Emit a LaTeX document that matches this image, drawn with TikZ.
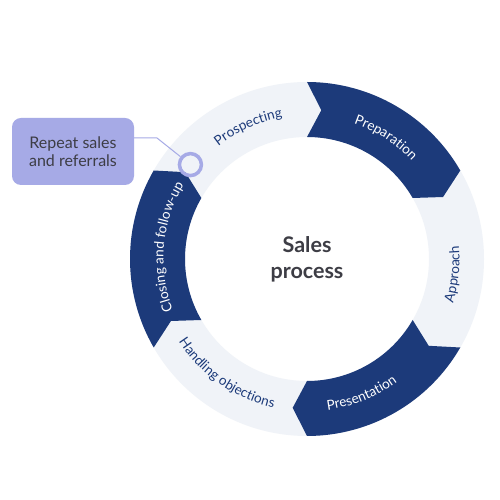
\documentclass[tikz,border=0pt]{standalone}
\usepackage{fontspec}
\setmainfont{Lato}
\usetikzlibrary{decorations.text}
\definecolor{navy}{HTML}{1C3A7A}
\definecolor{ringlight}{HTML}{F0F3F8}
\definecolor{lav}{HTML}{A6AAE6}
\definecolor{greytext}{HTML}{3D3D45}
\newcommand{\segfont}{\fontsize{13.6}{14}\selectfont}
\tikzset{
  darkseg/.style={fill=navy},
}
\newcommand{\segpath}[2]{% start angle, end angle
  (#1:177) arc[start angle=#1, end angle=#2, radius=177] -- (#2-5.5:149.5) -- (#2:122)
  arc[start angle=#2, end angle=#1, radius=122] -- (#1-5.5:149.5) -- cycle}
\newcommand{\cwtext}[3]{% center angle, color, text
  \path[decorate, decoration={text along path, text align=center,
    text={|\segfont\color{#2}|#3}}]
    (#1+45:143.5) arc[start angle=#1+45, end angle=#1-45, radius=143.5];}
\newcommand{\ccwtext}[3]{%
  \path[decorate, decoration={text along path, text align=center,
    text={|\segfont\color{#2}|#3}}]
    (#1-45:152.5) arc[start angle=#1-45, end angle=#1+45, radius=152.5];}
\begin{document}
\begin{tikzpicture}[x=1pt,y=1pt]
\useasboundingbox (0,0) rectangle (500,500);
\fill[white] (0,0) rectangle (500,500);
\begin{scope}[shift={(307,241)}]
  % light ring
  \fill[ringlight, even odd rule] (0,0) circle[radius=177] (0,0) circle[radius=122];
  % dark segments
  \fill[darkseg] \segpath{90}{30};
  \fill[darkseg] \segpath{-30}{-90};
  \fill[darkseg] \segpath{-150}{-210};
  % labels
  \cwtext{114}{navy}{Prospecting}
  \cwtext{57}{white}{Preparation}
  \ccwtext{-6}{navy}{Approach}
  \ccwtext{-68}{white}{Presentation}
  \ccwtext{-125}{navy}{Handling objections}
  \cwtext{175}{white}{Closing and follow-up}
  \node[font=\fontsize{21.5}{26}\selectfont\bfseries, text=greytext, align=center] (title) at (0,0) {Sales\\process};
  \node[circle, draw=lav, line width=3.5pt, minimum size=22pt, inner sep=0pt] (marker) at (141:150) {};
\end{scope}
\node[fill=lav, rounded corners=9pt, minimum width=122pt, minimum height=67pt,
  align=center, text=greytext, font=\fontsize{16}{18.5}\selectfont] (callout) at (73,348.5)
  {Repeat sales\\and referrals};
\coordinate (bend) at (157,362);
\draw[lav, line width=1pt] (callout.east |- bend) -- (bend) -- (marker);
\end{tikzpicture}
\end{document}
